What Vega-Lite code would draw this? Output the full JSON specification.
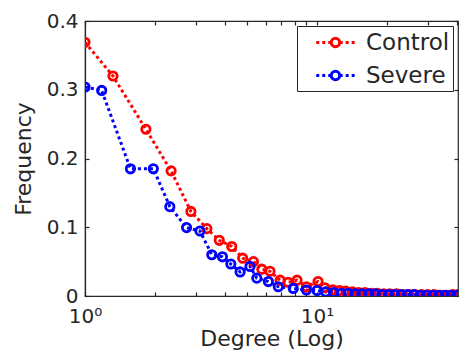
{
  "$schema": "https://vega.github.io/schema/vega-lite/v6.json",
  "width": 373,
  "height": 275,
  "autosize": {"type": "none"},
  "padding": {"left": 85, "top": 21, "right": 5, "bottom": 60},
  "background": "white",
  "config": {
    "view": {"stroke": "#262626", "strokeWidth": 1.2},
    "font": "DejaVu Sans",
    "axis": {
      "grid": false,
      "domainColor": "#262626",
      "tickColor": "#262626",
      "labelColor": "#262626",
      "titleColor": "#262626",
      "labelFont": "DejaVu Sans",
      "titleFont": "DejaVu Sans",
      "labelFontSize": 20,
      "titleFontSize": 22,
      "titleFontWeight": "normal",
      "tickSize": -4,
      "tickWidth": 1.2,
      "domainWidth": 1.2
    }
  },
  "data": {
    "values": [
      {"degree": 1.0, "freq": 0.369, "group": "Control"},
      {"degree": 1.32, "freq": 0.320, "group": "Control"},
      {"degree": 1.83, "freq": 0.2425, "group": "Control"},
      {"degree": 2.35, "freq": 0.182, "group": "Control"},
      {"degree": 2.86, "freq": 0.123, "group": "Control"},
      {"degree": 3.35, "freq": 0.098, "group": "Control"},
      {"degree": 3.79, "freq": 0.081, "group": "Control"},
      {"degree": 4.29, "freq": 0.072, "group": "Control"},
      {"degree": 4.78, "freq": 0.055, "group": "Control"},
      {"degree": 5.32, "freq": 0.050, "group": "Control"},
      {"degree": 5.78, "freq": 0.039, "group": "Control"},
      {"degree": 6.27, "freq": 0.036, "group": "Control"},
      {"degree": 6.93, "freq": 0.023, "group": "Control"},
      {"degree": 7.5, "freq": 0.020, "group": "Control"},
      {"degree": 8.2, "freq": 0.023, "group": "Control"},
      {"degree": 9.0, "freq": 0.0135, "group": "Control"},
      {"degree": 10.1, "freq": 0.021, "group": "Control"},
      {"degree": 10.8, "freq": 0.012, "group": "Control"},
      {"degree": 11.7, "freq": 0.009, "group": "Control"},
      {"degree": 12.5, "freq": 0.008, "group": "Control"},
      {"degree": 13.3, "freq": 0.007, "group": "Control"},
      {"degree": 14.2, "freq": 0.006, "group": "Control"},
      {"degree": 15.1, "freq": 0.005, "group": "Control"},
      {"degree": 16.1, "freq": 0.005, "group": "Control"},
      {"degree": 17.1, "freq": 0.004, "group": "Control"},
      {"degree": 18.2, "freq": 0.004, "group": "Control"},
      {"degree": 19.4, "freq": 0.003, "group": "Control"},
      {"degree": 20.6, "freq": 0.003, "group": "Control"},
      {"degree": 22.0, "freq": 0.003, "group": "Control"},
      {"degree": 23.4, "freq": 0.002, "group": "Control"},
      {"degree": 24.9, "freq": 0.002, "group": "Control"},
      {"degree": 26.5, "freq": 0.002, "group": "Control"},
      {"degree": 28.2, "freq": 0.002, "group": "Control"},
      {"degree": 30.0, "freq": 0.002, "group": "Control"},
      {"degree": 32.0, "freq": 0.002, "group": "Control"},
      {"degree": 34.0, "freq": 0.001, "group": "Control"},
      {"degree": 36.2, "freq": 0.001, "group": "Control"},
      {"degree": 38.5, "freq": 0.002, "group": "Control"},
      {"degree": 40.5, "freq": 0.002, "group": "Control"},
      {"degree": 1.0, "freq": 0.304, "group": "Severe"},
      {"degree": 1.18, "freq": 0.299, "group": "Severe"},
      {"degree": 1.57, "freq": 0.185, "group": "Severe"},
      {"degree": 1.97, "freq": 0.185, "group": "Severe"},
      {"degree": 2.32, "freq": 0.130, "group": "Severe"},
      {"degree": 2.74, "freq": 0.0995, "group": "Severe"},
      {"degree": 3.13, "freq": 0.0945, "group": "Severe"},
      {"degree": 3.52, "freq": 0.060, "group": "Severe"},
      {"degree": 3.91, "freq": 0.057, "group": "Severe"},
      {"degree": 4.25, "freq": 0.0465, "group": "Severe"},
      {"degree": 4.66, "freq": 0.035, "group": "Severe"},
      {"degree": 5.14, "freq": 0.043, "group": "Severe"},
      {"degree": 5.50, "freq": 0.026, "group": "Severe"},
      {"degree": 6.17, "freq": 0.021, "group": "Severe"},
      {"degree": 6.81, "freq": 0.0135, "group": "Severe"},
      {"degree": 7.9, "freq": 0.011, "group": "Severe"},
      {"degree": 9.0, "freq": 0.0087, "group": "Severe"},
      {"degree": 10.0, "freq": 0.008, "group": "Severe"},
      {"degree": 10.9, "freq": 0.006, "group": "Severe"},
      {"degree": 11.8, "freq": 0.005, "group": "Severe"},
      {"degree": 12.7, "freq": 0.004, "group": "Severe"},
      {"degree": 13.6, "freq": 0.004, "group": "Severe"},
      {"degree": 14.6, "freq": 0.003, "group": "Severe"},
      {"degree": 15.6, "freq": 0.003, "group": "Severe"},
      {"degree": 16.7, "freq": 0.003, "group": "Severe"},
      {"degree": 17.8, "freq": 0.003, "group": "Severe"},
      {"degree": 19.0, "freq": 0.002, "group": "Severe"},
      {"degree": 20.3, "freq": 0.002, "group": "Severe"},
      {"degree": 21.6, "freq": 0.002, "group": "Severe"},
      {"degree": 23.0, "freq": 0.002, "group": "Severe"},
      {"degree": 24.5, "freq": 0.002, "group": "Severe"},
      {"degree": 26.1, "freq": 0.002, "group": "Severe"},
      {"degree": 27.8, "freq": 0.001, "group": "Severe"},
      {"degree": 29.6, "freq": 0.001, "group": "Severe"},
      {"degree": 31.5, "freq": 0.001, "group": "Severe"},
      {"degree": 33.5, "freq": 0.001, "group": "Severe"},
      {"degree": 35.6, "freq": 0.001, "group": "Severe"},
      {"degree": 37.8, "freq": 0.001, "group": "Severe"},
      {"degree": 40.0, "freq": 0.001, "group": "Severe"}
    ]
  },
  "layer": [
    {
      "mark": {"type": "line", "strokeDash": [3, 3], "strokeWidth": 3, "clip": true},
      "encoding": {
        "x": {
          "field": "degree", "type": "quantitative",
          "scale": {"type": "log", "domain": [1, 40.5], "nice": false},
          "axis": {
            "orient": "bottom",
            "title": "Degree (Log)",
            "values": [1, 2, 3, 4, 5, 6, 7, 8, 9, 10, 20, 30, 40],
            "labelExpr": "datum.value == 1 ? '10⁰' : datum.value == 10 ? '10¹' : ''",
            "labelPadding": 14,
            "titlePadding": 2,
            "labelOverlap": false,
            "labelFlush": false
          }
        },
        "y": {
          "field": "freq", "type": "quantitative",
          "scale": {"domain": [0, 0.4], "nice": false},
          "axis": {
            "orient": "left",
            "title": "Frequency",
            "values": [0, 0.1, 0.2, 0.3, 0.4],
            "labelExpr": "datum.value == 0 ? '0' : format(datum.value, '.1f')",
            "labelPadding": 11,
            "titlePadding": 11
          }
        },
        "color": {
          "field": "group", "type": "nominal",
          "scale": {"domain": ["Control", "Severe"], "range": ["#ff0000", "#0000ff"]},
          "legend": {
            "title": null,
            "orient": "top-right",
            "offset": 5,
            "strokeColor": "#262626",
            "fillColor": "white",
            "padding": 3,
            "symbolType": "M0.23,0H0.48M0.73,0H0.98M1.23,0H1.43M1.48,0A0.35,0.35 0 1 1 2.18,0A0.35,0.35 0 1 1 1.48,0M2.23,0H2.43M2.68,0H2.93M3.18,0H3.43",
            "symbolSize": 576,
            "symbolStrokeWidth": 3,
            "symbolFillColor": "transparent",
            "labelFont": "DejaVu Sans",
            "labelFontSize": 23,
            "labelColor": "#262626",
            "labelOffset": 39,
            "rowPadding": 7
          }
        }
      }
    },
    {
      "mark": {"type": "point", "filled": false, "strokeWidth": 2.8, "size": 70, "opacity": 1, "clip": true},
      "encoding": {
        "x": {
          "field": "degree", "type": "quantitative",
          "axis": {
            "orient": "top", "title": null, "labels": false, "domain": false,
            "values": [1, 2, 3, 4, 5, 6, 7, 8, 9, 10, 20, 30, 40]
          }
        },
        "y": {
          "field": "freq", "type": "quantitative",
          "axis": {
            "orient": "right", "title": null, "labels": false, "domain": false,
            "values": [0, 0.1, 0.2, 0.3, 0.4]
          }
        },
        "color": {"field": "group", "type": "nominal"}
      }
    }
  ],
  "resolve": {"axis": {"x": "independent", "y": "independent"}}
}
